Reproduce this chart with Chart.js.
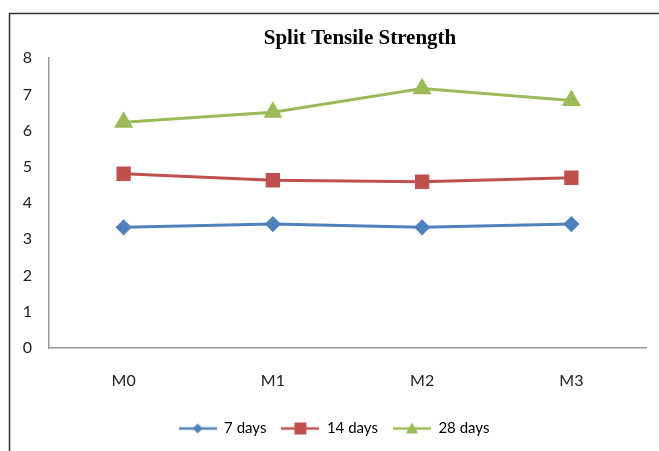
<!DOCTYPE html>
<html>
<head>
<meta charset="utf-8">
<script src="https://cdn.jsdelivr.net/npm/chart.js@4.4.1/dist/chart.umd.min.js"></script>
<style>
  html, body { margin: 0; padding: 0; background: #fff; }
  #wrap { width: 659px; height: 451px; position: relative; }
</style>
</head>
<body>
<div id="wrap"><canvas id="lineChart" width="659" height="451"></canvas></div>
<script>
var categories = ["M0", "M1", "M2", "M3"];
var days7 = [3.33, 3.42, 3.33, 3.42];
var days14 = [4.81, 4.63, 4.59, 4.70];
var days28 = [6.23, 6.51, 7.16, 6.83];
var yTicks = [0, 1, 2, 3, 4, 5, 6, 7, 8];

var chartColors = {
	blue: '#4F81BD',
	red: '#C0504D',
	green: '#9BBB59'
};

var labelFont = 'Lato, "Open Sans", sans-serif';

// small legend picture: line with the marker in the middle
function legendIcon(color, shape) {
	var c = document.createElement('canvas');
	c.width = 38; c.height = 14;
	var g = c.getContext('2d');
	g.strokeStyle = color;
	g.lineWidth = 2.5;
	g.beginPath(); g.moveTo(0, 7); g.lineTo(38, 7); g.stroke();
	g.fillStyle = color;
	g.beginPath();
	if (shape === 'diamond') {
		g.moveTo(19, 2); g.lineTo(24, 7); g.lineTo(19, 12); g.lineTo(14, 7);
	} else if (shape === 'square') {
		g.rect(13, 1, 12, 12);
	} else {
		g.moveTo(19, 1); g.lineTo(25, 12); g.lineTo(13, 12);
	}
	g.closePath(); g.fill();
	return c;
}

var icons = [
	legendIcon(chartColors.blue, 'diamond'),
	legendIcon(chartColors.red, 'square'),
	legendIcon(chartColors.green, 'triangle')
];

var frame = {
	id: 'frame',
	afterLayout: function (chart) {
		// title in the original sits a bit right of centre
		if (chart.titleBlock) {
			chart.titleBlock.left += 26;
			chart.titleBlock.right += 26;
		}
	},
	afterDraw: function (chart) {
		var c = chart.ctx;
		c.save();
		c.strokeStyle = '#333';
		c.lineWidth = 1.5;
		c.beginPath();
		c.moveTo(9.5, 451); c.lineTo(9.5, 13.5); c.lineTo(659, 13.5);
		c.stroke();
		c.restore();
	}
};

var ctx = document.getElementById("lineChart").getContext("2d");
var myChart = new Chart(ctx, {
	type: 'line',
	data: {
		labels: categories,
		datasets: [{
			label: '7 days',
			data: days7,
			borderColor: chartColors.blue,
			backgroundColor: chartColors.blue,
			borderWidth: 3,
			pointStyle: 'rectRot',
			pointRadius: 6,
			pointHoverRadius: 6
		}, {
			label: '14 days',
			data: days14,
			borderColor: chartColors.red,
			backgroundColor: chartColors.red,
			borderWidth: 3,
			pointStyle: 'rect',
			pointRadius: 8,
			pointHoverRadius: 8
		}, {
			label: '28 days',
			data: days28,
			borderColor: chartColors.green,
			backgroundColor: chartColors.green,
			borderWidth: 3,
			pointStyle: 'triangle',
			pointRadius: 8,
			pointHoverRadius: 8
		}]
	},
	options: {
		responsive: false,
		animation: false,
		layout: { padding: { left: 22, right: 13, bottom: 5 } },
		plugins: {
			title: {
				display: true,
				text: 'Split Tensile Strength',
				color: '#000',
				font: { family: '"Liberation Serif", "Times New Roman", serif', size: 21, weight: 'bold' },
				padding: { top: 26, bottom: 7 }
			},
			legend: {
				position: 'bottom',
				labels: {
					usePointStyle: true,
					pointStyleWidth: 38,
					padding: 15,
					color: '#222',
					font: { family: labelFont, size: 15 },
					generateLabels: function (chart) {
						return chart.data.datasets.map(function (ds, i) {
							return {
								text: ds.label,
								pointStyle: icons[i],
								fillStyle: ds.borderColor,
								strokeStyle: ds.borderColor,
								lineWidth: 0,
								datasetIndex: i,
								hidden: false
							};
						});
					}
				}
			},
			tooltip: { enabled: false }
		},
		scales: {
			x: {
				offset: true,
				grid: { display: false, drawTicks: false },
				border: { display: true, color: '#9a9a9a', width: 1.5 },
				ticks: { padding: 23, color: '#222', font: { family: labelFont, size: 16 } },
				afterFit: function (scale) { scale.height = 58; }
			},
			y: {
				min: 0,
				max: 8,
				afterBuildTicks: function (scale) {
					scale.ticks = yTicks.map(function (v) { return { value: v }; });
				},
				grid: { display: false, drawTicks: false },
				border: { display: true, color: '#9a9a9a', width: 1.5 },
				ticks: { padding: 17, color: '#222', font: { family: labelFont, size: 16 } },
				afterFit: function (scale) { scale.width = 27; }
			}
		}
	},
	plugins: [frame]
});
</script>
</body>
</html>
